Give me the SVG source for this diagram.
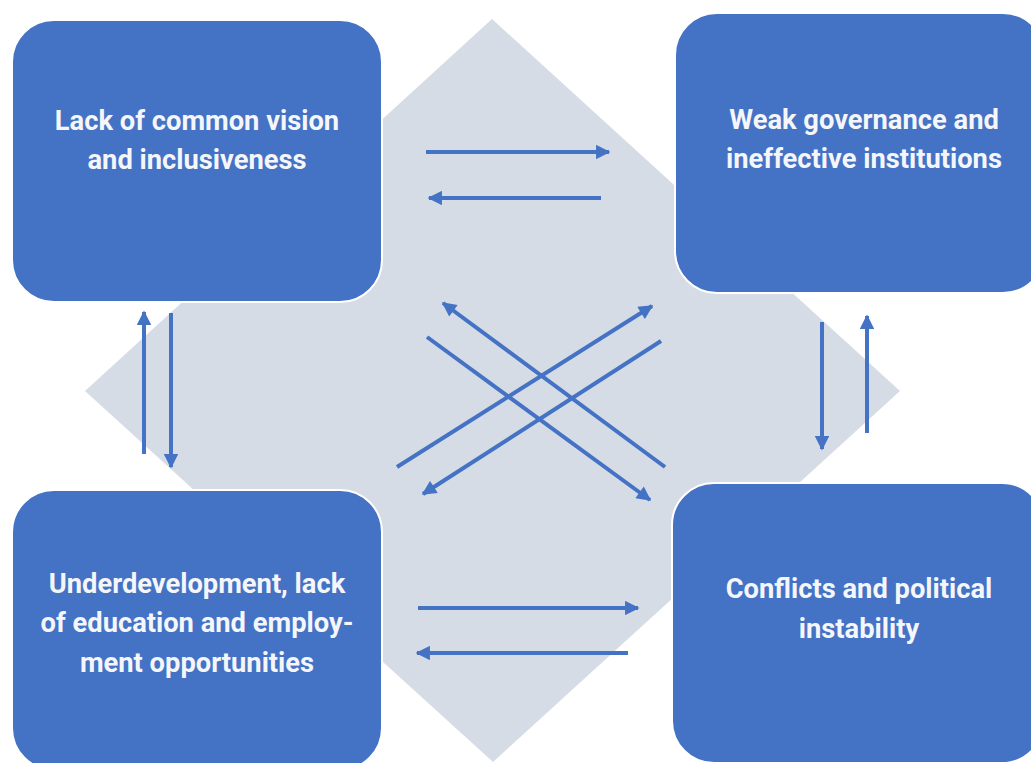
<svg xmlns="http://www.w3.org/2000/svg" width="1031" height="763" viewBox="0 0 1031 763">
  <style>
    .box { fill: #4472C4; stroke: #FFFFFF; stroke-width: 2; }
    .label { font-family: Roboto, "Liberation Sans", sans-serif; font-weight: bold; font-size: 27.3px; fill: #F5F6F9; text-anchor: middle; }
    .link { stroke: #4472C4; stroke-width: 4; fill: none; marker-end: url(#head); }
  </style>
  <defs>
    <marker id="head" viewBox="0 0 10 10" refX="9" refY="5" markerWidth="3.8" markerHeight="3.6" orient="auto" markerUnits="strokeWidth">
      <path d="M0,0 L10,5 L0,10 z" fill="#4472C4"/>
    </marker>
  </defs>

  <rect width="1031" height="763" fill="#FFFFFF"/>

  <!-- background diamond -->
  <polygon id="backdrop" points="492,19 900,391 493,762 85,391" fill="#D6DCE5"/>

  <!-- connectors -->
  <g id="connectors">
    <!-- top pair -->
    <line class="link" x1="426" y1="152" x2="609" y2="152"/>
    <line class="link" x1="601" y1="198" x2="429" y2="198"/>
    <!-- bottom pair -->
    <line class="link" x1="418" y1="608" x2="638" y2="608"/>
    <line class="link" x1="628" y1="653" x2="417" y2="653"/>
    <!-- left pair -->
    <line class="link" x1="144" y1="454" x2="144" y2="312"/>
    <line class="link" x1="171" y1="313" x2="171" y2="467"/>
    <!-- right pair -->
    <line class="link" x1="822" y1="322" x2="822" y2="449"/>
    <line class="link" x1="867" y1="433" x2="867" y2="316"/>
    <!-- diagonals -->
    <line class="link" x1="665" y1="467" x2="443" y2="303"/>
    <line class="link" x1="427" y1="337" x2="650" y2="500"/>
    <line class="link" x1="397" y1="467" x2="652" y2="306"/>
    <line class="link" x1="661" y1="341" x2="423" y2="494"/>
  </g>

  <g id="vision">
    <rect class="box" x="12" y="20" width="370" height="282" rx="42" ry="42"/>
    <text class="label" x="197" y="130">Lack of common vision</text>
    <text class="label" x="197" y="169">and inclusiveness</text>
  </g>

  <g id="governance">
    <rect class="box" x="675" y="13" width="370" height="280" rx="42" ry="42"/>
    <text class="label" x="864" y="129">Weak governance and</text>
    <text class="label" x="864" y="168">ineffective institutions</text>
  </g>

  <g id="underdevelopment">
    <rect class="box" x="12" y="490" width="370" height="280" rx="42" ry="42"/>
    <text class="label" x="197" y="593">Underdevelopment, lack</text>
    <text class="label" x="197" y="632">of education and employ-</text>
    <text class="label" x="197" y="672">ment opportunities</text>
  </g>

  <g id="conflicts">
    <rect class="box" x="672" y="483" width="372" height="280" rx="42" ry="42"/>
    <text class="label" x="859" y="598">Conflicts and political</text>
    <text class="label" x="859" y="638">instability</text>
  </g>
</svg>
